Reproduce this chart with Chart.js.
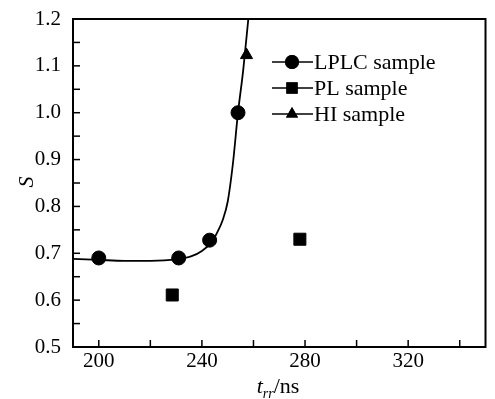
<!DOCTYPE html>
<html>
<head>
<meta charset="utf-8">
<script src="https://cdn.jsdelivr.net/npm/chart.js@4/dist/chart.umd.min.js"></script>
<style>
  html, body { margin: 0; padding: 0; background: #fff; }
  #wrap { width: 495px; height: 399px; }
</style>
</head>
<body>
<div id="wrap"><canvas id="sChart" width="495" height="399"></canvas></div>
<script>
// values
const lplcX = [200, 231, 243, 254];
const lplcY = [0.69, 0.69, 0.728, 1.0];
const plX = [228.5, 278];
const plY = [0.611, 0.73];
const hiX = [257.3];
const hiY = [1.123];
// fitted curve
const fitX = [190, 200, 210, 220, 230, 236, 240, 244, 246, 248, 250, 252, 254, 256, 258];
const fitY = [0.688, 0.686, 0.684, 0.684, 0.687, 0.694, 0.705, 0.725, 0.745, 0.77, 0.81, 0.89, 1.0, 1.09, 1.2];
const xTicks = [200, 220, 240, 260, 280, 300, 320, 340];
const xLabels = ['200', '', '240', '', '280', '', '320', ''];
const legendLabels = ['LPLC sample', 'PL sample', 'HI sample'];
const legendShapes = ['circle', 'rect', 'triangle'];

const toPts = (xs, ys) => xs.map((x, i) => ({ x: x, y: ys[i] }));
const serif = '"Liberation Serif", "DejaVu Serif", serif';

// ticks pointing into the plot, legend inside, axis titles
const decor = {
  id: 'decor',
  afterDraw(chart) {
    const ctx = chart.ctx;
    const a = chart.chartArea;
    const xs = chart.scales.x, ys = chart.scales.y;
    ctx.save();
    ctx.strokeStyle = '#000';
    ctx.lineWidth = 2;
    ctx.strokeRect(a.left, a.top, a.right - a.left, a.bottom - a.top);
    ctx.lineWidth = 1.5;
    xs.ticks.forEach(t => {
      const px = xs.getPixelForValue(t.value);
      ctx.beginPath(); ctx.moveTo(px, a.bottom); ctx.lineTo(px, a.bottom - 7); ctx.stroke();
    });
    ys.ticks.forEach(t => {
      const py = ys.getPixelForValue(t.value);
      ctx.beginPath(); ctx.moveTo(a.left, py); ctx.lineTo(a.left + 7, py); ctx.stroke();
    });

    // legend
    ctx.fillStyle = '#000';
    ctx.font = '22px ' + serif;
    ctx.textBaseline = 'middle';
    legendLabels.forEach((lab, i) => {
      const y = 62 + i * 26;
      ctx.lineWidth = 1.5;
      ctx.beginPath(); ctx.moveTo(272, y); ctx.lineTo(313, y); ctx.stroke();
      Chart.helpers.drawPoint(ctx, { pointStyle: legendShapes[i], radius: i === 1 ? 8 : 7, rotation: 0 }, 292, y);
      ctx.fill();
      ctx.fillText(lab, 314, y + 1);
    });

    // y title
    ctx.font = 'italic 22px ' + serif;
    ctx.textAlign = 'center';
    ctx.save();
    ctx.translate(27, 182);
    ctx.rotate(-Math.PI / 2);
    ctx.fillText('S', 0, 0);
    ctx.restore();

    // x title t_rr/ns
    const base = 393;
    ctx.textAlign = 'left';
    ctx.font = 'italic 22px ' + serif;
    const w1 = ctx.measureText('t').width;
    ctx.font = 'italic 14px ' + serif;
    const w2 = ctx.measureText('rr').width;
    ctx.font = '22px ' + serif;
    const w3 = ctx.measureText('/ns').width;
    let x0 = 278 - (w1 + w2 + w3) / 2;
    ctx.textBaseline = 'alphabetic';
    ctx.font = 'italic 22px ' + serif;
    ctx.fillText('t', x0, base);
    ctx.font = 'italic 14px ' + serif;
    ctx.fillText('rr', x0 + w1, base + 5);
    ctx.font = '22px ' + serif;
    ctx.fillText('/ns', x0 + w1 + w2, base);
    ctx.restore();
  }
};

new Chart(document.getElementById('sChart').getContext('2d'), {
  type: 'scatter',
  data: {
    datasets: [
      {
        label: 'fit',
        data: toPts(fitX, fitY),
        showLine: true,
        borderColor: '#000',
        borderWidth: 1.8,
        pointRadius: 0,
        cubicInterpolationMode: 'monotone'
      },
      {
        label: legendLabels[0],
        data: toPts(lplcX, lplcY),
        pointStyle: 'circle',
        pointRadius: 7,
        backgroundColor: '#000',
        borderColor: '#000'
      },
      {
        label: legendLabels[1],
        data: toPts(plX, plY),
        pointStyle: 'rect',
        pointRadius: 8.5,
        backgroundColor: '#000',
        borderColor: '#000'
      },
      {
        label: legendLabels[2],
        data: toPts(hiX, hiY),
        pointStyle: 'triangle',
        pointRadius: 7,
        backgroundColor: '#000',
        borderColor: '#000'
      }
    ]
  },
  options: {
    responsive: false,
    animation: false,
    layout: { padding: { top: 19, right: 6, left: 0, bottom: 0 } },
    plugins: {
      legend: { display: false },
      tooltip: { enabled: false }
    },
    scales: {
      x: {
        type: 'linear',
        min: 190,
        max: 350,
        afterFit: s => { s.height = 52; },
        afterBuildTicks: s => { s.ticks = xTicks.map(v => ({ value: v })); },
        border: { display: false },
        grid: { display: false, drawTicks: false },
        ticks: {
          autoSkip: false,
          maxRotation: 0,
          padding: 2,
          color: '#000',
          font: { family: serif, size: 21 },
          callback: (v, i) => xLabels[i]
        }
      },
      y: {
        min: 0.5,
        max: 1.2,
        afterFit: s => { s.width = 73; },
        border: { display: false },
        grid: { display: false },
        ticks: {
          stepSize: 0.05,
          autoSkip: false,
          padding: 4,
          color: '#000',
          font: { family: serif, size: 21 },
          callback: v => (Math.abs(Math.round(v * 10) - v * 10) < 1e-6 ? v.toFixed(1) : '')
        }
      }
    }
  },
  plugins: [decor]
});
</script>
</body>
</html>
